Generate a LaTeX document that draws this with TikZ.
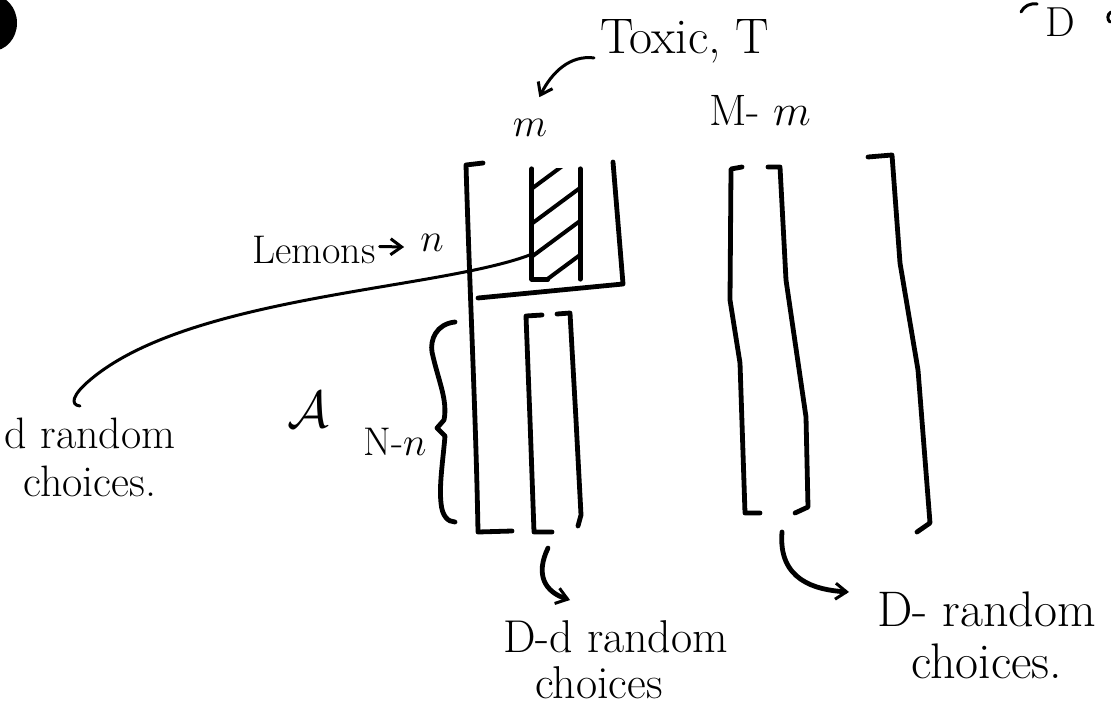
\RequirePackage{fix-cm}
\documentclass[tikz,border=0pt]{standalone}
\usetikzlibrary{arrows.meta,calc}
\begin{document}
\begin{tikzpicture}[x=1pt,y=-1pt,
  ink/.style={line width=4.8pt, line cap=round, line join=round},
  thinink/.style={line width=3pt, line cap=round, line join=round},
  arr/.style={-{Straight Barb[length=11pt,width=16pt,line width=3pt]}},
  lbl/.style={font=\fontsize{44}{48}\selectfont, inner sep=0pt},
  big/.style={font=\fontsize{50}{52}\selectfont, inner sep=0pt},
  small/.style={font=\fontsize{40}{44}\selectfont, inner sep=0pt}]
\useasboundingbox (0,0) rectangle (1111,712);
% ink blot at top left
\fill (-8,23) ellipse (25 and 28);
% fragment at top right
\node[font=\fontsize{42}{44}\selectfont, inner sep=0pt, anchor=base] (topD) at (1060,36) {D};
\draw[thinink] (1021,12) .. controls (1024,6) and (1030,3) .. (1037,4);
\draw[thinink] (1111,12) .. controls (1107,14) and (1107,20) .. (1110,22);
% labels
\node[big, anchor=base west] (toxic) at (600,53) {Toxic, T};
\node[small] (mlab) at (530,128) {$m$};
\node[lbl] (Mm) at (760,110) {M- $m$};
\node[small, anchor=base west] (lemons) at (252,263) {Lemons};
\node[small] (nlab) at (432,243) {$n$};
\node[font=\fontsize{52}{56}\selectfont, inner sep=0pt] (Alab) at (308,410) {$\mathcal{A}$};
\node[small] (Nn) at (395,442) {N-$n$};
\node[lbl, align=center, anchor=north] (drc) at (90,418) {d random\\choices.};
\node[font=\fontsize{46}{46}\selectfont, inner sep=0pt, align=left, anchor=north west] (ddrc) at (503,620) {D-d random\\\hspace*{32pt}choices};
\node[big, align=center, anchor=north west] (Drc) at (877,592) {D- random\\choices.};
% toxic block (hatched)
\node[minimum width=48pt, minimum height=110pt, inner sep=0pt] (hatch) at (556,224) {};
\begin{scope}
  \clip (hatch.north west) rectangle (hatch.south east);
  \foreach \c in {190,225,258,292,322} {
    \draw[line width=4pt, line cap=round] (530,\c) -- (584,\c-40);
  }
\end{scope}
\draw[ink] (hatch.north west) -- (hatch.south west) -- ++(16,0);
\draw[ink] (hatch.north east) -- (hatch.south east);
% big left bracket
\draw[ink] (483,163) -- (466,165) .. controls (470,300) and (476,420) .. (478,532) -- (512,531);
% top block right side and bottom
\draw[ink] (613,162) -- (623,284) -- (478,298);
% inner lower brackets
\draw[ink] (542,315) -- (526,316) -- (530,420) -- (534,532) -- (552,532);
\draw[ink] (557,314) -- (570,313) -- (576,420) -- (581,515) -- (578,526);
% right brackets
\draw[ink] (742,167) -- (731,169) -- (730,300) -- (740,363) -- (745,513) -- (760,513);
\draw[ink] (768,167) -- (780,167) -- (786,280) -- (806,417) -- (808,507) -- (795,513);
\draw[ink] (868,157) -- (892,155) -- (900,263) -- (918,370) -- (930,523) -- (917,532);
% brace
\draw[ink] (455,322) .. controls (436,324) and (430,340) .. (432,352)
  .. controls (438,380) and (448,400) .. (444,420) -- (437,428) -- (445,436)
  .. controls (443,460) and (439,485) .. (441,503)
  .. controls (442,516) and (448,522) .. (455,522);
% connectors
\draw[thinink, arr] ($(toxic.south west)+(-6,-5)$) .. controls (570,55) and (552,72) .. ($(mlab.north east)+(-8,-22)$);
\draw[thinink, arr] ($(lemons.east)+(4,-3)$) -- ($(nlab.west)+(-16,4)$);
\draw[thinink] ($(hatch.south west)+(0,-25)$) .. controls (440,290) and (190,295) .. (90,380)
  .. controls (72,395) and (70,405) .. ($(drc.north)+(-10,-12)$);
\coordinate (innerbot) at (548,548);
\draw[ink, arr] (innerbot) .. controls (535,575) and (545,592) .. ($(ddrc.north west)+(67,-20)$);
\coordinate (rightbot) at (782,532);
\draw[ink, arr] (rightbot) .. controls (778,580) and (815,590) .. ($(Drc.north west)+(-28,0)$);
\end{tikzpicture}
\end{document}
